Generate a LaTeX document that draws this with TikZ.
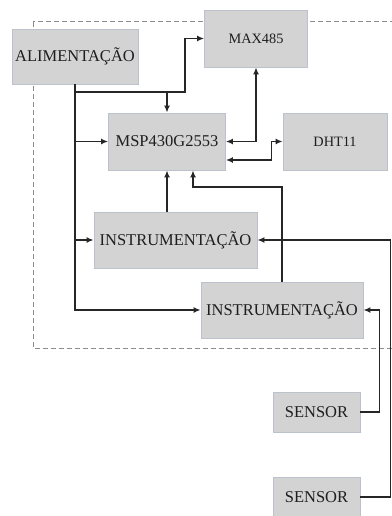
\documentclass[tikz,border=0pt]{standalone}
\usepackage{fontspec}
\setmainfont{Liberation Serif}
\usepackage{tikz}
\usetikzlibrary{arrows.meta, positioning}
\usepackage{xcolor}
\definecolor{blockgray}{RGB}{211, 211, 211}
\definecolor{blockedge}{RGB}{188, 194, 204}
\definecolor{frameline}{RGB}{140, 140, 140}
\definecolor{textdark}{RGB}{30, 30, 30}

\begin{document}
\begin{tikzpicture}[x=1pt, y=-1pt,
    block/.style={draw=blockedge, fill=blockgray, line width=0.8pt, text=textdark, inner sep=0pt, font=\fontsize{16.5}{18}\selectfont},
    smallblock/.style={block, font=\fontsize{14.3}{16}\selectfont},
    link/.style={line width=1.6pt, draw=black!85, -{Latex[length=7pt, width=6pt]}},
    biglink/.style={link, {Latex[length=7pt, width=6pt]}-{Latex[length=7pt, width=6pt]}}]
    \useasboundingbox (0,0) rectangle (391,516);
    \draw[frameline, line width=1pt, dash pattern=on 5pt off 3pt] (33,22) rectangle (420,348);

    \node[block, minimum width=126pt, minimum height=55pt] (alim) at (75,56.5) {ALIMENTAÇÃO};
    \node[smallblock, minimum width=103pt, minimum height=57pt] (max) at (256,38.5) {MAX485};
    \node[block, minimum width=117pt, minimum height=57pt] (msp) at (167,141.5) {MSP430G2553};
    \node[smallblock, minimum width=104pt, minimum height=57pt] (dht) at (335,141.5) {DHT11};
    \node[block, minimum width=163pt, minimum height=56pt] (inst1) at (175.5,240) {INSTRUMENTAÇÃO};
    \node[block, minimum width=162pt, minimum height=56pt] (inst2) at (282,310) {INSTRUMENTAÇÃO};
    \node[block, minimum width=87pt, minimum height=40pt] (sen1) at (316.5,412) {SENSOR};
    \node[block, minimum width=87pt, minimum height=40pt] (sen2) at (316.5,497) {SENSOR};

    \coordinate (k) at (185,92);
    \coordinate (b2) at (193,187);

    \draw[link] (alim.south) |- (k) |- (max.west);
    \draw[link] (msp.north |- k) -- (msp.north);
    \draw[link] (alim.south) |- (msp.west);
    \draw[link] (alim.south) |- (inst1.west);
    \draw[link] (alim.south) |- (inst2.west);
    \draw[biglink] (max.south) |- (msp.east);
    \draw[biglink] (dht.west) -- ++(-11,0) |- ([yshift=-18.5pt]msp.east);
    \draw[link] (inst1.north -| msp.south) -- (msp.south);
    \draw[link] (inst2.north) |- (b2) -- (b2 |- msp.south);
    \draw[link] (sen1.east) -- ++(19,0) |- (inst2.east);
    \draw[link] (sen2.east) -- ++(30,0) |- (inst1.east);
\end{tikzpicture}
\end{document}
